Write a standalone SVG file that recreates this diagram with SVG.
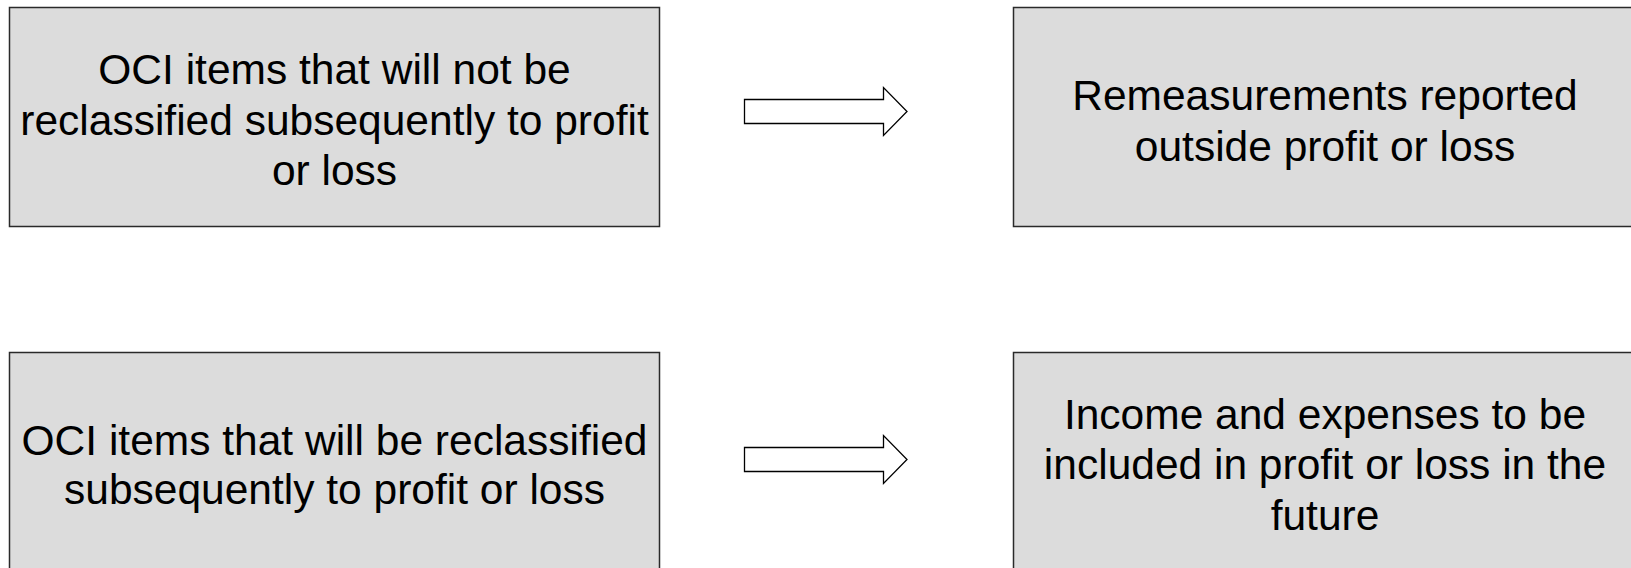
<svg xmlns="http://www.w3.org/2000/svg" width="1631" height="568" viewBox="0 0 1631 568">
<style>
.box{fill:#dcdcdc;stroke:#2a2a2a;stroke-width:1.5}
.t{font-family:"Liberation Sans",Arial,sans-serif;font-size:42.5px;fill:#000;text-anchor:middle}
.arr{fill:#fff;stroke:#000;stroke-width:1.3}
</style>
<rect width="1631" height="568" fill="#fff"/>
<g id="n1"><rect class="box" x="9.5" y="7.5" width="650" height="219"/>
<text class="t"><tspan x="334.5" y="84">OCI items that will not be</tspan><tspan x="334.5" y="134.5">reclassified subsequently to profit</tspan><tspan x="334.5" y="185">or loss</tspan></text></g>
<g id="n2"><rect class="box" x="1013.5" y="7.5" width="640" height="219"/>
<text class="t"><tspan x="1325" y="110">Remeasurements reported</tspan><tspan x="1325" y="161">outside profit or loss</tspan></text></g>
<g id="n3"><rect class="box" x="9.5" y="352.5" width="650" height="240"/>
<text class="t"><tspan x="334.5" y="454.5">OCI items that will be reclassified</tspan><tspan x="334.5" y="503.5">subsequently to profit or loss</tspan></text></g>
<g id="n4"><rect class="box" x="1013.5" y="352.5" width="640" height="240"/>
<text class="t"><tspan x="1325" y="428.5">Income and expenses to be</tspan><tspan x="1325" y="479">included in profit or loss in the</tspan><tspan x="1325" y="529.5">future</tspan></text></g>
<g id="connectors">
<polygon class="arr" points="744.5,99.5 883.5,99.5 883.5,87.5 907,111.5 883.5,135.5 883.5,123.5 744.5,123.5"/>
<polygon class="arr" points="744.5,447.5 883.5,447.5 883.5,435.5 907,459.5 883.5,483.5 883.5,471.5 744.5,471.5"/>
</g>
</svg>
